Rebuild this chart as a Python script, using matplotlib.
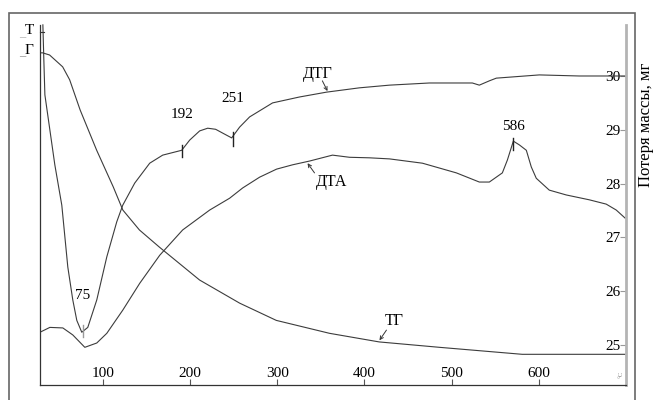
import matplotlib
matplotlib.use("Agg")
import matplotlib.pyplot as plt
from matplotlib.patches import Rectangle

plt.rcParams['font.family'] = ['Liberation Serif', 'DejaVu Serif']

# температура, °C
tg_t = [28, 31, 39, 54, 62, 74, 93, 112, 123, 142, 165, 211, 257, 299, 360, 417, 486, 581, 638, 699]
tg_v = [30.43, 30.43, 30.39, 30.17, 29.93, 29.37, 28.62, 27.94, 27.51, 27.14, 26.82, 26.21,
        25.78, 25.46, 25.22, 25.06, 24.96, 24.83, 24.83, 24.83]

dtg_t = [31.3, 32.4, 33.6, 39.3, 45, 53, 59.9, 65.6, 70.2, 75.9, 82.8, 93.1, 104.6, 116, 122.9,
         136.6, 153.8, 168.7, 190.5, 199.7, 211.1, 220.3, 229.4, 239.7, 247.8, 256.9, 268.4,
         294.7, 325.6, 356.6, 394.3, 428.8, 474.6, 523.8, 531.8, 543.3, 551.3, 600.6, 646.4, 699]
dtg_v = [30.95, 30.30, 29.65, 29.0, 28.35, 27.60, 26.45, 25.84, 25.46, 25.24, 25.33, 25.84, 26.64,
         27.29, 27.60, 28.01, 28.38, 28.53, 28.62, 28.81, 28.98, 29.03, 29.01, 28.92, 28.85, 29.05,
         29.24, 29.50, 29.61, 29.70, 29.78, 29.83, 29.87, 29.87, 29.83, 29.91, 29.96, 30.02, 30.0, 30.0]

dta_t = [28, 39.3, 54.2, 65.6, 79.4, 93.1, 104.6, 122.9, 142.4, 165.3, 191.6, 222.6, 245.5, 260.4,
         279.8, 299.3, 317.6, 337.1, 363.4, 382.9, 405.8, 428.8, 466.6, 505.5, 531.8, 543.3, 558.2,
         564, 570.8, 577.7, 585.7, 591.4, 597.1, 612, 631.5, 657.9, 677.3, 688.8, 699]
dta_v = [25.24, 25.33, 25.32, 25.19, 24.96, 25.04, 25.22, 25.65, 26.15, 26.67, 27.14, 27.51, 27.73,
         27.92, 28.12, 28.27, 28.35, 28.42, 28.53, 28.49, 28.48, 28.46, 28.38, 28.20, 28.03, 28.03,
         28.20, 28.44, 28.79, 28.72, 28.62, 28.31, 28.10, 27.88, 27.79, 27.70, 27.62, 27.51, 27.36]

x_ticks = [100, 200, 300, 400, 500, 600]
y_ticks = [25, 26, 27, 28, 29, 30]

# пики: подпись, x, y метки, y подписи
peaks = [("75", 77.1, 25.15, 25.37, 25.93),
         ("192", 190.5, 28.49, 28.72, 29.29),
         ("251", 248.9, 28.70, 28.96, 29.59),
         ("586", 570.8, 28.62, 28.85, 29.07)]

# подписи кривых: текст, положение текста, стрелка от/до
curve_labels = [("ДТГ", 346.3, 30.04, (351.8, 29.91), (357.7, 29.72)),
                ("ДТА", 362.3, 28.03, (342.8, 28.20), (334.8, 28.38)),
                ("ТГ", 434.5, 25.45, (425.3, 25.28), (417.3, 25.09))]

line_c = '#3c3c3c'

fig = plt.figure(figsize=(6.54, 4.0), dpi=100)
ax = fig.add_axes([40 / 654, 1 - 385 / 400, 586 / 654, 365 / 400])

ax.plot(tg_t, tg_v, color=line_c, lw=0.8)
ax.plot(dtg_t, dtg_v, color=line_c, lw=0.8)
ax.plot(dta_t, dta_v, color=line_c, lw=0.8)

for lab, x, y0, y1, yt in peaks:
    c = '#9a9a9a' if lab == "75" else '#222222'
    ax.plot([x, x], [y0, y1], color=c, lw=1.0)
    ax.text(x, yt, lab, ha='center', va='center', fontsize=11)

for lab, tx, ty, p0, p1 in curve_labels:
    ax.text(tx, ty, lab, ha='center', va='center', fontsize=11.5)
    ax.annotate('', xy=p1, xytext=p0,
                arrowprops=dict(arrowstyle='->', color='#333333', lw=0.7,
                                shrinkA=0, shrinkB=0, mutation_scale=6))

ax.set_xlim(28, 700)
ax.set_ylim(24.26, 31.04)

ax.set_xticks(x_ticks)
ax.set_yticks(y_ticks)
ax.yaxis.tick_right()
ax.yaxis.set_label_position('right')
ax.tick_params(axis='x', direction='in', length=4, width=0.8, pad=-13,
               labelsize=11, color='#555555')
ax.tick_params(axis='y', direction='in', length=4, width=0.8, pad=-15,
               labelsize=11, color='#999999')
ax.set_ylabel('Потеря массы, мг', fontsize=12)
ax.yaxis.set_label_coords(1.021, 0.712)

ax.spines['top'].set_visible(False)
ax.spines['left'].set_bounds(24.26, 30.95)
ax.spines['left'].set_color('#333333')
ax.spines['left'].set_linewidth(0.9)
ax.spines['bottom'].set_color('#333333')
ax.spines['bottom'].set_linewidth(0.9)
ax.spines['right'].set_bounds(24.26, 30.95)
ax.spines['right'].set_color('#b4b4b4')
ax.spines['right'].set_linewidth(2.0)

ax.text(694, 24.45, '°C', rotation=90, fontsize=5, color='#888888', ha='center', va='center')

# метки слева
fig.text(25 / 654, 1 - 33 / 400, '_', fontsize=9, color='#aaaaaa', ha='right', va='center')
fig.text(34 / 654, 1 - 31 / 400, 'T', fontsize=11, ha='right', va='center')
fig.text(25 / 654, 1 - 52 / 400, '_', fontsize=9, color='#888888', ha='right', va='center')
fig.text(33 / 654, 1 - 50 / 400, 'Г', fontsize=11, ha='right', va='center')
fig.add_artist(plt.Line2D([40 / 654, 44 / 654], [1 - 32 / 400, 1 - 32 / 400], color='#333333', lw=0.8))

fig.add_artist(Rectangle((9 / 654, -0.05), 626 / 654, 1.05 - 13 / 400, fill=False,
                         edgecolor='#666666', lw=1.2, transform=fig.transFigure))

fig.savefig('out.png', dpi=100)
